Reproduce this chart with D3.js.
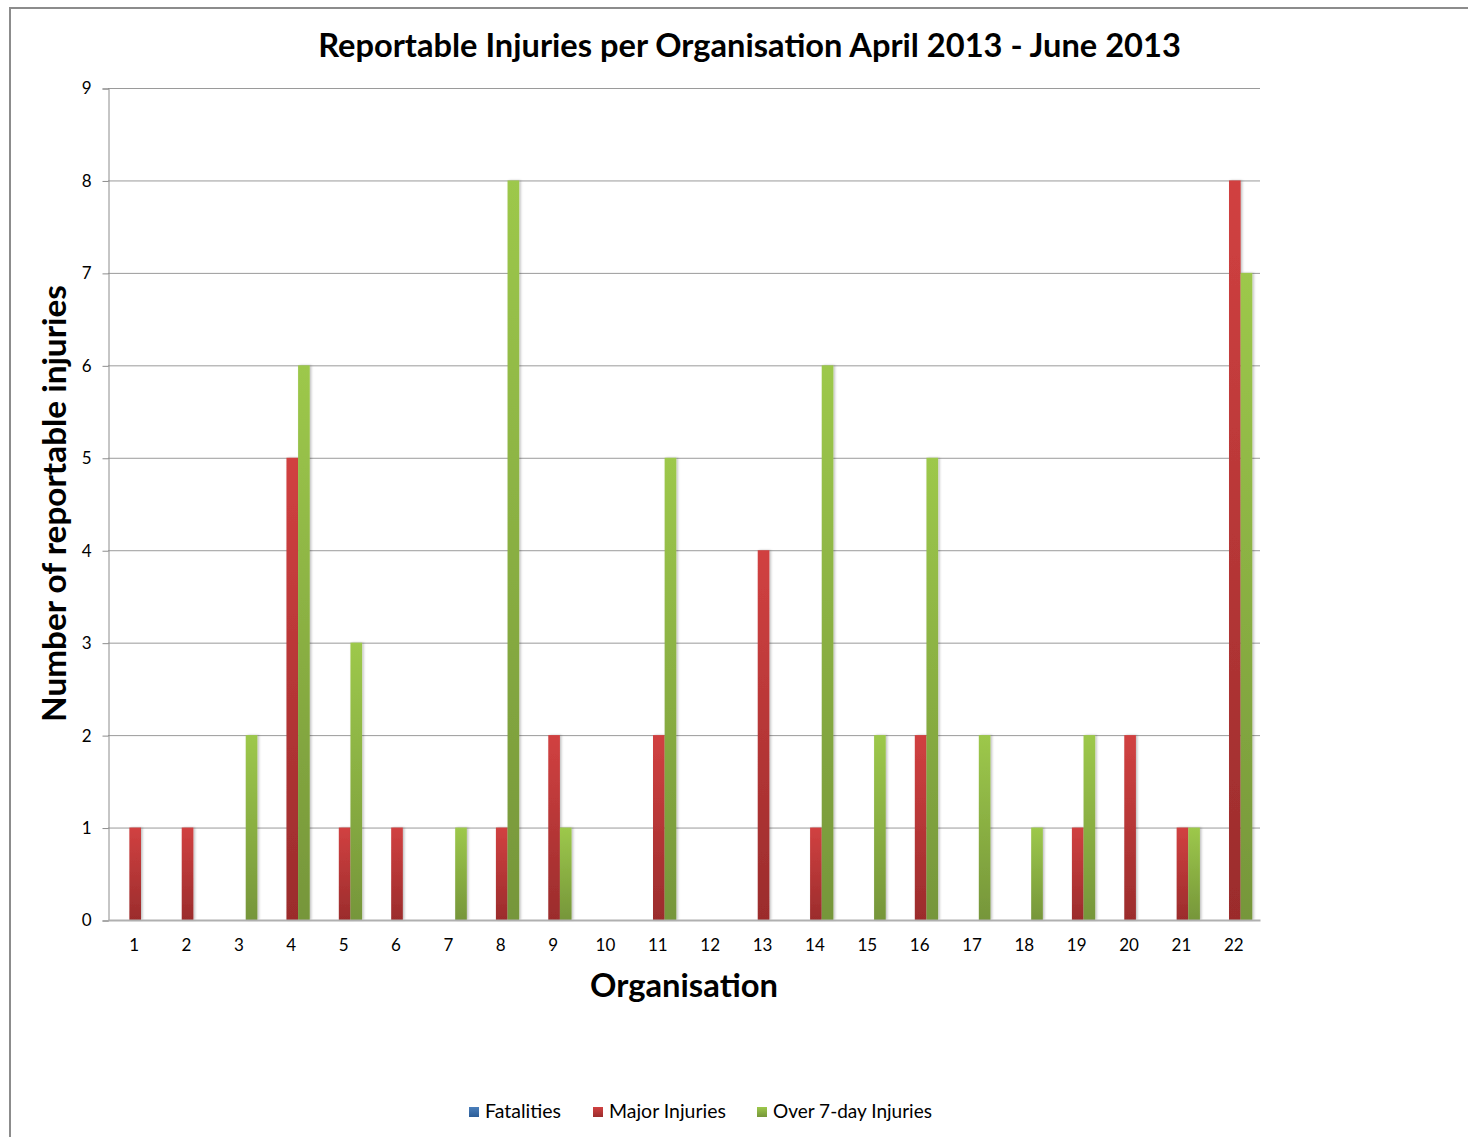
<!DOCTYPE html>
<html>
<head>
<meta charset="utf-8">
<script src="https://cdn.jsdelivr.net/npm/d3@7"></script>
<style>
  html, body { margin: 0; padding: 0; background: #fff; }
  svg { display: block; }
  text { font-family: Lato, "Open Sans", "DejaVu Sans", sans-serif; fill: #000; }
</style>
</head>
<body>
<script>
// ---- data ----
const organisations = ["1","2","3","4","5","6","7","8","9","10","11","12","13","14","15","16","17","18","19","20","21","22"];
const seriesNames = ["Fatalities", "Major Injuries", "Over 7-day Injuries"];
const fatalities = [0,0,0,0,0,0,0,0,0,0,0,0,0,0,0,0,0,0,0,0,0,0];
const majorInjuries = [1,1,0,5,1,1,0,1,2,0,2,0,4,1,0,2,0,0,1,2,1,8];
const over7day = [0,0,2,6,3,0,1,8,1,0,5,0,0,6,2,5,2,1,2,0,1,7];
const yTicks = [0,1,2,3,4,5,6,7,8,9];
const titleText = "Reportable Injuries per Organisation April 2013 - June 2013";
const xTitle = "Organisation";
const yTitle = "Number of reportable injuries";

const W = 1468, H = 1137;
const svg = d3.select("body").append("svg").attr("width", W).attr("height", H);

const colors = {
  "Fatalities": ["#4a7ebb", "#2c5d98"],
  "Major Injuries": ["#d14141", "#9b2c2c"],
  "Over 7-day Injuries": ["#9dc84b", "#76963a"]
};
const defs = svg.append("defs");
seriesNames.forEach((s, i) => {
  const g = defs.append("linearGradient").attr("id", "grad" + i)
    .attr("x1", 0).attr("y1", 0).attr("x2", 0).attr("y2", 1);
  g.append("stop").attr("offset", "0%").attr("stop-color", colors[s][0]);
  g.append("stop").attr("offset", "100%").attr("stop-color", colors[s][1]);
});
const f = defs.append("filter").attr("id", "shadow").attr("x", "-50%").attr("y", "-5%").attr("width", "200%").attr("height", "110%");
f.append("feDropShadow").attr("dx", 1.5).attr("dy", 0).attr("stdDeviation", 1.2)
  .attr("flood-color", "#000").attr("flood-opacity", 0.25);

// frame
svg.append("path").attr("d", `M10,${H} L10,8 L${W},8`)
  .attr("fill", "none").attr("stroke", "#8c8c8c").attr("stroke-width", 2);

const plot = { left: 108, right: 1260, top: 88, bottom: 920 };

const x0 = d3.scaleBand().domain(organisations).range([plot.left, plot.right])
  .paddingInner(1/3).paddingOuter(1/6);
const x1 = d3.scaleBand().domain(seriesNames).range([0, x0.bandwidth()]);
const y = d3.scaleLinear().domain([0, 9]).range([plot.bottom, plot.top]);

// gridlines
svg.append("g").selectAll("line").data(yTicks.filter(d => d > 0)).join("line")
  .attr("x1", plot.left).attr("x2", plot.right)
  .attr("y1", d => y(d) + 0.5).attr("y2", d => y(d) + 0.5)
  .attr("stroke", "#9a9a9a").attr("stroke-width", 1);

// y axis
const yAxis = d3.axisLeft(y).tickValues(yTicks).tickSize(6).tickPadding(11).tickFormat(d3.format("d"));
const yg = svg.append("g").attr("transform", `translate(${plot.left + 0.5},0.5)`).call(yAxis);
yg.select(".domain").attr("stroke", "#8c8c8c");
yg.selectAll(".tick line").attr("stroke", "#8c8c8c");
yg.selectAll(".tick text").attr("font-size", 17).attr("fill", "#000")
  .style("font-family", "Lato, 'Open Sans', sans-serif");

// bars
const data = organisations.map((o, i) => ({
  org: o,
  vals: [fatalities[i], majorInjuries[i], over7day[i]]
}));
const groups = svg.append("g").selectAll("g").data(data).join("g")
  .attr("transform", d => `translate(${x0(d.org) + 1},0)`);
groups.selectAll("rect").data(d => d.vals.map((v, j) => ({ s: seriesNames[j], j, v })))
  .join("rect")
  .filter(d => d.v > 0)
  .attr("x", d => x1(d.s))
  .attr("width", x1.bandwidth())
  .attr("y", d => y(d.v))
  .attr("height", d => y(0) - y(d.v))
  .attr("fill", d => `url(#grad${d.j})`)
  .attr("filter", "url(#shadow)");

// x axis
const xAxis = d3.axisBottom(x0).tickSize(0).tickPadding(19);
const xg = svg.append("g").attr("transform", `translate(0,${plot.bottom})`).call(xAxis);
xg.select(".domain").attr("stroke", "#b0b0b0").attr("stroke-width", 2);
xg.selectAll(".tick text").attr("font-size", 17).attr("fill", "#000")
  .style("font-family", "Lato, 'Open Sans', sans-serif");

// fit helper
function fit(sel, targetWidth) {
  const w = sel.node().getComputedTextLength();
  const fs = parseFloat(sel.attr("font-size"));
  sel.attr("font-size", fs * targetWidth / w);
}

// title
const t = svg.append("text").attr("x", 749.5).attr("y", 57).attr("text-anchor", "middle")
  .attr("font-weight", "bold").attr("font-size", 30).text(titleText);
fit(t, 863);

// x title
const xt = svg.append("text").attr("x", 684).attr("y", 997).attr("text-anchor", "middle")
  .attr("font-weight", "bold").attr("font-size", 30).text(xTitle);
fit(xt, 188);

// y title
const yt = svg.append("text").attr("transform", "translate(66,503.5) rotate(-90)")
  .attr("text-anchor", "middle").attr("font-weight", "bold").attr("font-size", 30).text(yTitle);
fit(yt, 437);

// legend
const legendItems = [
  { s: "Fatalities", sq: 469, tx: 485, tw: 76 },
  { s: "Major Injuries", sq: 593, tx: 609, tw: 117 },
  { s: "Over 7-day Injuries", sq: 757, tx: 773, tw: 159 }
];
const lg = svg.append("g");
legendItems.forEach((it) => {
  const j = seriesNames.indexOf(it.s);
  lg.append("rect").attr("x", it.sq).attr("y", 1107).attr("width", 10).attr("height", 10)
    .attr("fill", `url(#grad${j})`);
  const tt = lg.append("text").attr("x", it.tx).attr("y", 1118).attr("font-size", 17).text(it.s);
  fit(tt, it.tw);
});
</script>
</body>
</html>
